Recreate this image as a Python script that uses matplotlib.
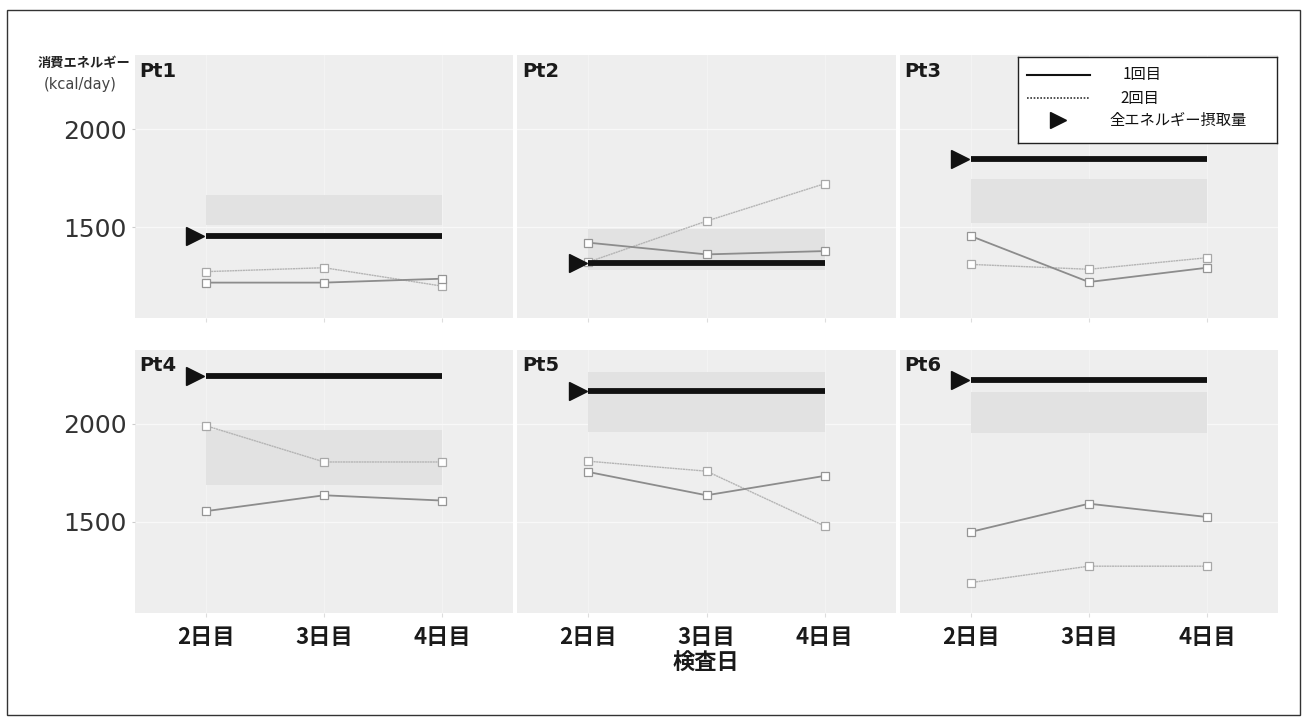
import matplotlib
matplotlib.use("Agg")
import matplotlib.pyplot as plt
from matplotlib.patches import Rectangle
import numpy as np

plt.rcParams['font.family'] = ['DejaVu Sans', 'Noto Sans CJK JP']

days = [1, 2, 3]
day_labels = ["2日目", "3日目", "4日目"]
patients = ["Pt1", "Pt2", "Pt3", "Pt4", "Pt5", "Pt6"]

# 全エネルギー摂取量
intake = [1455, 1320, 1850, 2246, 2167, 2226]

# 消費エネルギー 1回目 / 2回目
first = [
    [1218, 1218, 1238],
    [1422, 1362, 1379],
    [1456, 1221, 1294],
    [1555, 1636, 1609],
    [1755, 1636, 1735],
    [1449, 1593, 1525],
]
second = [
    [1274, 1294, 1200],
    [1323, 1532, 1723],
    [1311, 1286, 1345],
    [1991, 1806, 1806],
    [1810, 1759, 1479],
    [1190, 1274, 1274],
]

# shaded range behind each panel
band_low = [1510, 1280, 1520, 1690, 1960, 1955]
band_high = [1665, 1490, 1745, 1970, 2265, 2165]

W, H = 1306, 720
fig = plt.figure(figsize=(W / 100, H / 100), dpi=100)

gs = fig.add_gridspec(2, 3, left=135 / W, right=1278 / W,
                      top=1 - 55 / H, bottom=1 - 613 / H,
                      wspace=0.011, hspace=0.118)

axes = []
for i in range(6):
    r, c = divmod(i, 3)
    ax = fig.add_subplot(gs[r, c])
    axes.append(ax)
    ax.set_facecolor('#eeeeee')
    ax.set_xlim(0.4, 3.6)
    ax.set_ylim(1035, 2380)
    ax.set_yticks([1500, 2000])
    ax.set_xticks(days)
    ax.grid(True, axis='y', color='#f8f8f8', lw=1.0)
    ax.grid(True, axis='x', color='#f3f3f3', lw=0.8)
    ax.set_axisbelow(True)
    for s in ax.spines.values():
        s.set_visible(False)

    ax.fill_between(days, band_low[i], band_high[i], color='#e2e2e2', lw=0, zorder=1)

    ax.plot(days, second[i], color='#b4b4b4', lw=1.0, ls=(0, (1.5, 0.4)),
            marker='s', ms=5.5, mfc='white', mec='#a8a8a8', mew=0.9, zorder=3)
    ax.plot(days, first[i], color='#8c8c8c', lw=1.3,
            marker='s', ms=5.5, mfc='white', mec='#959595', mew=0.9, zorder=3)

    ax.plot([days[0], days[-1]], [intake[i], intake[i]], color='#111111', lw=4.2,
            solid_capstyle='butt', zorder=4)
    ax.plot([days[0] - 0.09], [intake[i]], marker='>', ms=13, color='#111111',
            lw=0, zorder=5)

    ax.text(0.012, 0.975, patients[i], transform=ax.transAxes, ha='left', va='top',
            fontsize=14, fontweight='bold', color='#1a1a1a')

    if c == 0:
        ax.tick_params(axis='y', labelsize=18, labelcolor='#333333', length=2,
                       color='#cccccc', pad=4)
    else:
        ax.tick_params(axis='y', labelleft=False, length=0)
    if r == 1:
        ax.set_xticklabels(day_labels, fontfamily=['Noto Sans CJK JP'],
                           fontweight='bold', fontsize=16)
        ax.tick_params(axis='x', labelcolor='#1a1a1a', length=3, color='#dddddd', pad=6)
    else:
        ax.tick_params(axis='x', labelbottom=False, length=3, color='#dddddd')

fig.text(706 / W, 1 - 663 / H, "検査日", ha='center', va='center', fontsize=16,
         fontweight='bold', family=['Noto Sans CJK JP'], color='#1a1a1a')

fig.text(130 / W, 1 - 63 / H, "消費エネルギー", ha='right', va='center', fontsize=9.5,
         fontweight='bold', family=['Noto Sans CJK JP'], color='#222222')
fig.text(80 / W, 1 - 85 / H, "(kcal/day)", ha='center', va='center', fontsize=10.5,
         color='#444444')

# legend box
lax = fig.add_axes([1018 / W, 1 - 143 / H, 259 / W, 86 / H])
lax.set_xlim(0, 259)
lax.set_ylim(86, 0)
lax.set_xticks([])
lax.set_yticks([])
for s in lax.spines.values():
    s.set_color('#222222')
    s.set_linewidth(1.0)
lax.plot([9, 72], [18, 18], color='#111111', lw=1.5)
lax.plot([9, 72], [41, 41], color='#333333', lw=1.2, ls=(0, (1, 1)))
lax.plot([40], [63], marker='>', ms=11, color='#111111', lw=0)
lax.text(124, 18, "1回目", ha='center', va='center', fontsize=11,
         family=['Noto Sans CJK JP'], color='#111111')
lax.text(122, 41, "2回目", ha='center', va='center', fontsize=11,
         family=['Noto Sans CJK JP'], color='#111111')
lax.text(160, 63, "全エネルギー摂取量", ha='center', va='center', fontsize=11,
         family=['Noto Sans CJK JP'], color='#111111')

# outer frame
fig.patches.append(Rectangle((7 / W, 1 - 715 / H), 1293 / W, 705 / H,
                             transform=fig.transFigure, fill=False,
                             edgecolor='#333333', lw=1.0))

fig.savefig("out.png", dpi=100)
